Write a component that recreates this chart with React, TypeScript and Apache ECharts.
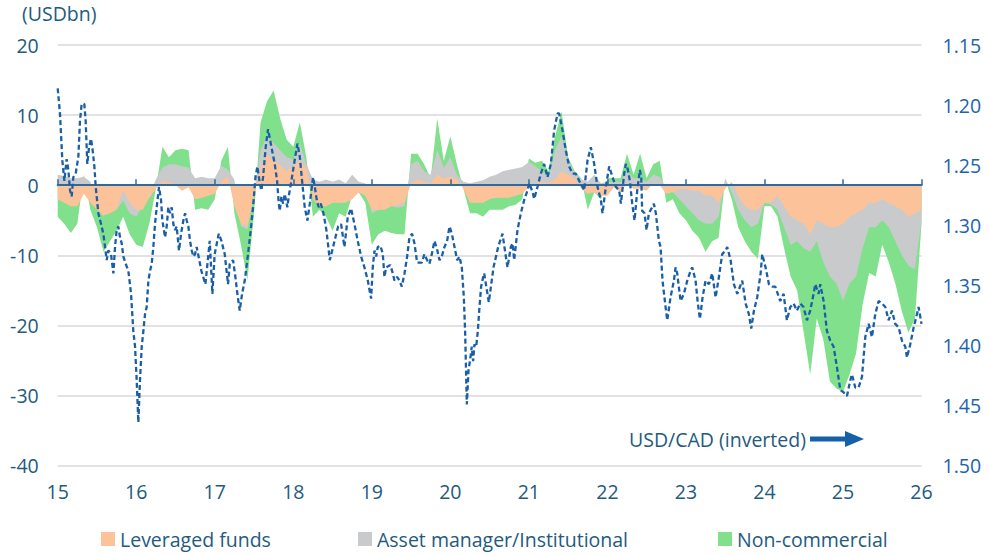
import React, { useEffect, useRef } from "react";
import * as echarts from "echarts";

// Monthly positioning data (USDbn), Jan-2015 .. Jan-2026
const leveraged = [
  -2.0, -2.5, -3.0, -3.0, -1.2, -2.5, -3.5, -4.3, -4.0, -3.5, -0.7, -2.5,
  -3.5, -3.5, -1.8, -0.5, 0.6, 0.5, 0.0, -0.8, -0.3, -2.0, -1.8, -1.5,
  -1.2, 0.5, 1.3, -3.0, -5.5, -5.8, -1.5, 2.5, 4.3, 3.5, 2.8, 2.0,
  2.7, 3.5, 2.5, -2.0, -3.0, -3.0, -2.5, -2.5, -2.5, -2.0, -1.0, -1.5,
  -3.5, -3.5, -3.5, -3.0, -2.8, -2.5, 0.3, 0.8, 0.5, 0.3, 1.5, 1.0,
  1.2, 0.8, -0.5, -2.5, -2.5, -2.5, -2.0, -1.8, -1.8, -1.8, -1.5, -1.2,
  -0.3, 0.2, 0.5, 0.3, 0.8, 2.0, 1.5, 1.0, -0.5, -1.2, -1.0, -1.5,
  -1.5, -0.3, -1.0, 0.3, -0.5, -0.5, -0.8, 0.3, 0.0, -1.2, -1.0, -0.5,
  -0.5, -0.8, -0.8, -1.5, -1.5, -2.5, -0.5, 0.5, -1.5, -3.0, -3.5, -3.5,
  -2.5, -2.5, -1.5, -3.0, -4.5, -5.0, -5.5, -7.0, -5.0, -5.5, -6.0, -6.0,
  -5.5, -4.5, -4.0, -3.5, -2.5, -2.5, -2.0, -2.5, -3.0, -3.5, -4.5, -4.0,
  -3.5,
];
const assetManager = [
  1.5, 1.3, 1.0, 1.0, 1.2, 0.5, -3.0, -4.5, -2.5, -3.5, -2.2, -4.0,
  -4.5, -3.0, -1.5, 0.8, 2.5, 3.0, 3.0, 2.7, 2.5, 1.0, 1.2, 1.0,
  1.0, 2.8, 2.2, 0.8, -5.8, -6.3, -1.0, 5.0, 7.0, 6.0, 5.0, 4.0,
  3.7, 6.0, 3.0, 0.8, 0.5, 0.8, 0.5, 0.8, 0.3, 1.5, 0.5, 0.3,
  -4.0, -3.5, -3.2, -3.0, -3.2, -3.0, 3.0, 3.5, 2.0, 1.5, 5.0, 2.5,
  4.0, 1.5, 0.5, 0.3, 0.5, 0.7, 1.2, 1.5, 2.0, 2.2, 2.4, 2.6,
  3.3, 2.7, 2.0, 1.2, 5.0, 7.0, 3.5, 1.8, 0.8, 0.5, 1.5, 0.3,
  0.5, 0.5, 0.5, 2.0, 1.0, 1.0, 0.5, 1.5, 1.2, -0.5, -1.0, -2.0,
  -3.0, -4.0, -5.0, -5.5, -5.5, -4.5, 1.0, -1.0, -3.5, -5.0, -6.0, -5.5,
  -2.5, -2.7, -3.5, -6.0, -8.5, -8.0, -9.0, -9.5, -8.0, -11.0, -13.0, -14.0,
  -16.5, -14.0, -13.0, -9.0, -6.0, -6.0, -5.0, -6.0, -8.0, -10.0, -11.5, -12.0,
  -5.0,
];
const nonCommercial = [
  -4.5, -5.5, -6.8, -5.5, 1.5, -3.5, -6.0, -9.5, -8.0, -6.5, -4.5, -7.0,
  -8.5, -8.8, -5.5, -0.5, 5.5, 4.0, 5.0, 5.2, 5.0, -3.5, -3.3, -3.5,
  -2.0, 3.5, 5.5, -4.0, -8.5, -13.5, -4.0, 9.0, 12.0, 13.5, 9.5, 6.5,
  5.5, 9.0, 4.0, -4.5, -3.5, -4.5, -6.5, -4.0, -4.5, -1.5, -1.0, -2.5,
  -8.5, -7.0, -6.5, -6.8, -7.0, -7.0, 4.5, 4.5, 3.0, 1.0, 9.5, 3.5,
  7.0, 3.0, -0.5, -4.0, -4.0, -4.5, -3.5, -3.5, -3.5, -3.0, -2.8, -2.0,
  3.8, 3.2, 3.5, 2.0, 7.0, 10.5, 4.0, 2.0, 1.0, -3.5, -1.0, -2.0,
  1.0, 1.0, 1.0, 4.5, 1.5, 4.5, 1.0, 3.0, 3.5, -2.5, -2.0, -4.0,
  -5.0, -6.5, -7.5, -9.5, -8.0, -7.5, 0.8, -2.0, -6.0, -8.0, -9.5, -10.5,
  -3.0, -3.0, -4.5, -9.0, -13.0, -15.0, -21.0, -27.0, -19.0, -22.0, -28.0, -29.0,
  -29.5, -27.0, -24.0, -17.0, -12.5, -13.0, -8.5, -11.0, -14.0, -18.0, -21.0, -19.0,
  -5.5,
];

// USD/CAD (inverted right axis): [year, rate]
const usdcad: [number, number][] = [
  [15.0, 1.186], [15.029, 1.207], [15.059, 1.246], [15.085, 1.263], [15.114, 1.245], [15.136, 1.254],
  [15.157, 1.271], [15.178, 1.276], [15.199, 1.26], [15.229, 1.257], [15.263, 1.243], [15.284, 1.213],
  [15.305, 1.199], [15.339, 1.199], [15.356, 1.213], [15.377, 1.249], [15.399, 1.235], [15.424, 1.228],
  [15.441, 1.235], [15.467, 1.251], [15.484, 1.268], [15.518, 1.29], [15.552, 1.299], [15.581, 1.307],
  [15.603, 1.318], [15.624, 1.329], [15.645, 1.321], [15.679, 1.324], [15.709, 1.34], [15.73, 1.318],
  [15.751, 1.304], [15.772, 1.301], [15.794, 1.31], [15.815, 1.315], [15.836, 1.326], [15.866, 1.332],
  [15.9, 1.338], [15.934, 1.357], [15.963, 1.388], [15.985, 1.401], [16.006, 1.429], [16.027, 1.464],
  [16.048, 1.429], [16.07, 1.401], [16.091, 1.388], [16.112, 1.374], [16.133, 1.368], [16.155, 1.346],
  [16.176, 1.338], [16.197, 1.332], [16.218, 1.318], [16.239, 1.299], [16.261, 1.285], [16.29, 1.268],
  [16.316, 1.279], [16.333, 1.296], [16.367, 1.31], [16.388, 1.301], [16.409, 1.285], [16.43, 1.29],
  [16.452, 1.285], [16.473, 1.299], [16.494, 1.304], [16.515, 1.301], [16.545, 1.321], [16.571, 1.307],
  [16.6, 1.296], [16.622, 1.29], [16.643, 1.296], [16.664, 1.301], [16.685, 1.313], [16.707, 1.321],
  [16.728, 1.326], [16.749, 1.324], [16.77, 1.318],
  [16.83, 1.338], [16.881, 1.349], [16.936, 1.313], [16.97, 1.357], [16.999, 1.324], [17.051, 1.307],
  [17.085, 1.313], [17.127, 1.324], [17.169, 1.349], [17.191, 1.332], [17.233, 1.329], [17.263, 1.343],
  [17.288, 1.357], [17.318, 1.371], [17.348, 1.357], [17.382, 1.346], [17.424, 1.324], [17.458, 1.304],
  [17.488, 1.285], [17.518, 1.26], [17.543, 1.251], [17.573, 1.265], [17.594, 1.271], [17.615, 1.26],
  [17.649, 1.235], [17.679, 1.22], [17.722, 1.235], [17.764, 1.249], [17.794, 1.263], [17.815, 1.282],
  [17.828, 1.288], [17.849, 1.276], [17.87, 1.282], [17.891, 1.274], [17.925, 1.285], [17.942, 1.276],
  [17.976, 1.263], [18.01, 1.249], [18.053, 1.232], [18.083, 1.243], [18.112, 1.263], [18.146, 1.285],
  [18.18, 1.296], [18.21, 1.282], [18.252, 1.26], [18.274, 1.268], [18.299, 1.279], [18.324, 1.285],
  [18.35, 1.282], [18.384, 1.29], [18.422, 1.304], [18.465, 1.329], [18.507, 1.318], [18.537, 1.31],
  [18.571, 1.301],
  [18.609, 1.299], [18.651, 1.318], [18.694, 1.293], [18.736, 1.286], [18.779, 1.299], [18.821, 1.313],
  [18.864, 1.326], [18.906, 1.335], [18.949, 1.346], [18.991, 1.361], [19.012, 1.335], [19.034, 1.321],
  [19.055, 1.326], [19.076, 1.318], [19.11, 1.317], [19.14, 1.324], [19.161, 1.343], [19.182, 1.335],
  [19.237, 1.333], [19.267, 1.34], [19.288, 1.346], [19.322, 1.343], [19.352, 1.346], [19.382, 1.351],
  [19.416, 1.34], [19.45, 1.326], [19.479, 1.31], [19.513, 1.307], [19.543, 1.315], [19.577, 1.331],
  [19.637, 1.331], [19.67, 1.324], [19.704, 1.329], [19.734, 1.332], [19.764, 1.324], [19.798, 1.313],
  [19.828, 1.319], [19.862, 1.329], [19.891, 1.326], [19.925, 1.318], [19.959, 1.313], [19.989, 1.301],
  [20.019, 1.307], [20.053, 1.318], [20.087, 1.329], [20.116, 1.326], [20.146, 1.335], [20.172, 1.36],
  [20.189, 1.39], [20.201, 1.424], [20.21, 1.449], [20.231, 1.421], [20.256, 1.41], [20.273, 1.401],
  [20.29, 1.413], [20.307, 1.399], [20.329, 1.401], [20.35, 1.388], [20.371, 1.368], [20.392, 1.351],
  [20.418, 1.343],
  [20.431, 1.34], [20.49, 1.364], [20.55, 1.335], [20.609, 1.318], [20.664, 1.307], [20.707, 1.326],
  [20.728, 1.335], [20.77, 1.318], [20.792, 1.315], [20.813, 1.329], [20.855, 1.304], [20.898, 1.29],
  [20.94, 1.279], [20.983, 1.271], [21.004, 1.265], [21.046, 1.272], [21.068, 1.278], [21.11, 1.268],
  [21.152, 1.257], [21.195, 1.249], [21.237, 1.26], [21.28, 1.249], [21.322, 1.221], [21.365, 1.207],
  [21.386, 1.207], [21.428, 1.221], [21.471, 1.238], [21.513, 1.251], [21.556, 1.257], [21.598, 1.257],
  [21.641, 1.263], [21.683, 1.268], [21.704, 1.271], [21.747, 1.246], [21.789, 1.235], [21.832, 1.249],
  [21.874, 1.268], [21.917, 1.279], [21.938, 1.29], [21.98, 1.268], [22.023, 1.251], [22.065, 1.26],
  [22.108, 1.268], [22.15, 1.271], [22.172, 1.282], [22.214, 1.257], [22.235, 1.249],
  [22.252, 1.251], [22.286, 1.263], [22.316, 1.282], [22.346, 1.296], [22.38, 1.271], [22.414, 1.254],
  [22.431, 1.26], [22.443, 1.288], [22.473, 1.29], [22.499, 1.304], [22.528, 1.29], [22.571, 1.285],
  [22.592, 1.282], [22.617, 1.29], [22.656, 1.313], [22.677, 1.318], [22.702, 1.346], [22.741, 1.368],
  [22.762, 1.379], [22.804, 1.36], [22.847, 1.346], [22.868, 1.335], [22.889, 1.34], [22.932, 1.363],
  [22.974, 1.357], [23.017, 1.346], [23.059, 1.338], [23.08, 1.335], [23.123, 1.346], [23.152, 1.365],
  [23.178, 1.378], [23.212, 1.36], [23.25, 1.346], [23.293, 1.349], [23.335, 1.34], [23.378, 1.36],
  [23.42, 1.343], [23.462, 1.324], [23.505, 1.321], [23.526, 1.318], [23.569, 1.329], [23.611, 1.349],
  [23.654, 1.357], [23.717, 1.346], [23.76, 1.365], [23.802, 1.374], [23.832, 1.386], [23.866, 1.371],
  [23.908, 1.36], [23.951, 1.34], [23.972, 1.324], [24.014, 1.335], [24.057, 1.349], [24.099, 1.351],
  [24.138, 1.351], [24.201, 1.363], [24.244, 1.357], [24.286, 1.379], [24.329, 1.368], [24.371, 1.365],
  [24.414, 1.371], [24.456, 1.365], [24.498, 1.368], [24.541, 1.379], [24.583, 1.371], [24.626, 1.357],
  [24.647, 1.349], [24.69, 1.357], [24.711, 1.349], [24.753, 1.363], [24.796, 1.388], [24.838, 1.396],
  [24.881, 1.401], [24.923, 1.418], [24.966, 1.437], [25.008, 1.439], [25.051, 1.442], [25.093, 1.429],
  [25.114, 1.424], [25.157, 1.435], [25.199, 1.435], [25.242, 1.426], [25.284, 1.393], [25.327, 1.382],
  [25.369, 1.393], [25.411, 1.374], [25.454, 1.363], [25.496, 1.365], [25.539, 1.368], [25.581, 1.379],
  [25.624, 1.371], [25.666, 1.382], [25.709, 1.385], [25.751, 1.396], [25.794, 1.401], [25.815, 1.41],
  [25.857, 1.399], [25.9, 1.385], [25.942, 1.374], [25.963, 1.368], [26.0, 1.382],
];

const startYear = 15;
const endYear = 26;
const leftTicks = { min: -40, max: 20, step: 10 };
const rightTicks = { min: 1.15, max: 1.5, step: 0.05 };

const FONT = "'Open Sans', 'Noto Sans', sans-serif";
const FS = 19.5;
const TEXT_COLOR = "#235A80";
const RIGHT_COLOR = "#1D63AC";
const ORANGE = "#FCC39B";
const GRAY = "#C8CACC";
const GREEN = "#80E08C";
const LINE_BLUE = "#1A5EA6";

export default function App() {
  const ref = useRef<HTMLDivElement>(null);

  useEffect(() => {
    document.body.style.margin = "0";
    if (!ref.current) return;
    const chart = echarts.init(ref.current, null, { renderer: "svg" });

    const monthT = leveraged.map((_, i) => startYear + i / 12);
    const toPairs = (arr: number[]) => arr.map((v, i) => [monthT[i], v]);

    const areaSeries = (name: string, data: number[], color: string) => ({
      name,
      type: "line",
      data: toPairs(data),
      showSymbol: false,
      symbol: "none",
      color,
      lineStyle: { width: 0, color },
      areaStyle: { color, opacity: 1 },
      itemStyle: { color },
      z: 2,
      silent: true,
    });

    const legendBase = {
      top: 524,
      padding: 5,
      itemWidth: 14,
      itemHeight: 14,
      itemGap: 6,
      icon: "rect",
      textStyle: { fontSize: FS, color: TEXT_COLOR, fontFamily: FONT },
      selectedMode: false,
    };

    chart.setOption({
      animation: false,
      textStyle: { fontFamily: FONT },
      grid: { left: 57.7, right: 68.5, top: 45, bottom: 89.3, containLabel: false },
      legend: [
        { ...legendBase, left: 96, data: ["Leveraged funds"] },
        { ...legendBase, left: 353, data: ["Asset manager/Institutional"] },
        { ...legendBase, left: 713, data: ["Non-commercial"] },
      ],
      xAxis: [
        {
          type: "value",
          min: startYear,
          max: endYear,
          interval: 1,
          position: "bottom",
          axisLine: { show: false, onZero: false },
          axisTick: { show: false },
          splitLine: { show: false },
          axisLabel: { fontSize: FS, color: TEXT_COLOR, margin: 16, fontFamily: FONT },
        },
        {
          type: "value",
          min: startYear,
          max: endYear,
          interval: 1,
          position: "bottom",
          z: 3,
          axisLine: { show: true, onZero: true, onZeroAxisIndex: 0, lineStyle: { color: "#2F6A9E", width: 2 } },
          axisTick: { show: true, inside: true, length: 6, lineStyle: { color: "#2F6A9E", width: 1.5 } },
          splitLine: { show: false },
          axisLabel: { show: false },
        },
      ],
      yAxis: [
        {
          type: "value",
          min: leftTicks.min,
          max: leftTicks.max,
          interval: leftTicks.step,
          axisLine: { show: false },
          axisTick: { show: false },
          splitLine: { lineStyle: { color: "#D9D9D9", width: 1.5 } },
          axisLabel: { fontSize: FS, color: TEXT_COLOR, margin: 19, fontFamily: FONT },
        },
        {
          type: "value",
          position: "right",
          inverse: true,
          min: rightTicks.min,
          max: rightTicks.max,
          interval: rightTicks.step,
          axisLine: { show: false },
          axisTick: { show: false },
          splitLine: { show: false },
          axisLabel: {
            fontSize: FS,
            color: RIGHT_COLOR,
            margin: 21,
            fontFamily: FONT,
            formatter: (v: number) => v.toFixed(2),
          },
        },
      ],
      graphic: [
        {
          type: "text",
          left: 22,
          top: 3,
          style: { text: "(USDbn)", fontSize: FS, fill: TEXT_COLOR, fontFamily: FONT },
        },
        {
          type: "text",
          x: 629,
          y: 439,
          style: {
            text: "USD/CAD (inverted)",
            fontSize: FS,
            fill: TEXT_COLOR,
            fontFamily: FONT,
            verticalAlign: "middle",
          },
        },
        {
          type: "rect",
          shape: { x: 810, y: 436.5, width: 37, height: 5 },
          style: { fill: "#1560A6" },
        },
        {
          type: "polygon",
          shape: { points: [[845, 431], [864, 439], [845, 447]] },
          style: { fill: "#1560A6" },
        },
      ],
      series: [
        areaSeries("Non-commercial", nonCommercial, GREEN),
        areaSeries("Asset manager/Institutional", assetManager, GRAY),
        areaSeries("Leveraged funds", leveraged, ORANGE),
        {
          name: "USD/CAD",
          type: "line",
          yAxisIndex: 1,
          data: usdcad,
          showSymbol: false,
          symbol: "none",
          lineStyle: { color: LINE_BLUE, width: 2.3, type: [5, 3] },
          z: 5,
          silent: true,
        },
      ],
    });

    return () => chart.dispose();
  }, []);

  return <div ref={ref} style={{ width: 990, height: 555 }} />;
}
